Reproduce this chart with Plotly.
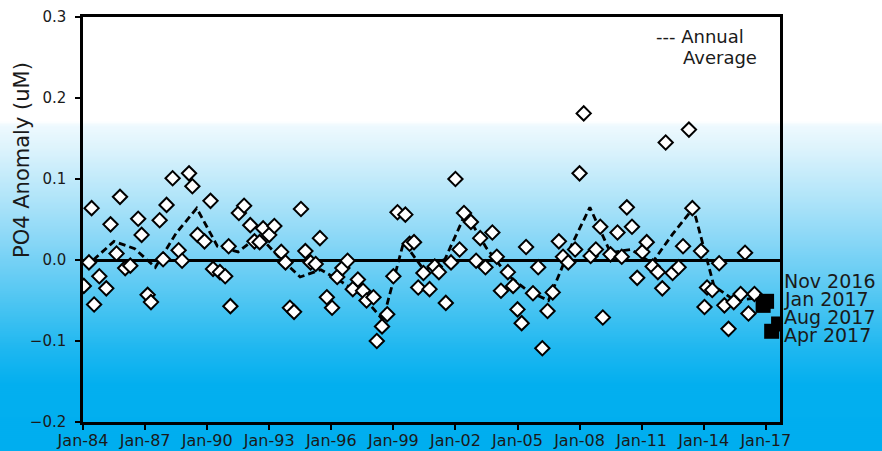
import plotly.graph_objects as go

# ---------------- data ----------------
sample_dates = [
    "1984-01-15", "1984-04-15", "1984-06-01", "1984-07-15", "1984-10-15",
    "1985-02-15", "1985-05-01", "1985-08-15", "1985-10-15", "1986-01-15",
    "1986-04-15", "1986-09-01", "1986-11-01", "1987-02-15", "1987-04-15",
    "1987-09-15", "1987-11-15", "1988-01-15", "1988-05-01", "1988-08-15",
    "1988-10-15", "1989-02-15", "1989-04-15", "1989-07-15", "1989-11-15",
    "1990-03-01", "1990-04-15", "1990-08-15", "1990-11-15", "1991-01-15",
    "1991-02-15", "1991-07-15", "1991-10-15", "1992-02-01", "1992-04-15",
    "1992-07-15", "1992-09-15", "1993-01-01", "1993-04-01", "1993-08-01",
    "1993-10-15", "1994-01-01", "1994-03-15", "1994-07-15", "1994-10-01",
    "1995-01-01", "1995-04-01", "1995-06-15", "1995-10-15", "1996-01-15",
    "1996-04-15", "1996-07-15", "1996-10-15", "1997-01-15", "1997-04-15",
    "1997-07-15", "1997-09-15", "1998-01-15", "1998-03-15", "1998-06-15",
    "1998-09-15", "1999-01-01", "1999-03-15", "1999-08-01", "1999-10-15",
    "2000-01-01", "2000-03-15", "2000-06-15", "2000-10-01", "2001-01-01",
    "2001-03-15", "2001-07-15", "2001-10-15", "2002-01-01", "2002-03-15",
    "2002-06-01", "2002-10-01", "2003-01-01", "2003-03-15", "2003-06-15",
    "2003-10-15", "2004-01-01", "2004-03-15", "2004-07-15", "2004-10-15",
    "2005-01-01", "2005-03-15", "2005-06-01", "2005-10-01", "2006-01-01",
    "2006-03-15", "2006-06-15", "2006-09-15", "2007-01-01", "2007-03-15",
    "2007-06-15", "2007-10-15", "2008-01-01", "2008-03-15", "2008-07-15",
    "2008-10-15", "2009-01-01", "2009-02-15", "2009-07-01", "2009-11-01",
    "2010-01-15", "2010-04-15", "2010-07-15", "2010-10-15", "2011-01-15",
    "2011-04-01", "2011-07-15", "2011-10-15", "2012-01-01", "2012-03-01",
    "2012-07-01", "2012-10-15", "2013-01-01", "2013-04-15", "2013-06-15",
    "2013-11-15", "2014-01-15", "2014-03-01", "2014-06-01", "2014-10-01",
    "2015-01-01", "2015-03-15", "2015-06-15", "2015-10-15", "2016-01-01",
    "2016-03-01", "2016-06-15",
]
sample_anomaly = [
    -0.032, -0.003, 0.064, -0.055, -0.020,
    -0.035, 0.044, 0.008, 0.078, -0.010,
    -0.007, 0.051, 0.031, -0.043, -0.052,
    0.049, 0.001, 0.068, 0.101, 0.012,
    -0.001, 0.107, 0.091, 0.031, 0.023,
    0.073, -0.011, -0.015, -0.020, 0.017,
    -0.057, 0.058, 0.067, 0.043, 0.023,
    0.022, 0.039, 0.031, 0.042, 0.010,
    -0.003, -0.059, -0.064, 0.063, 0.011,
    -0.003, -0.005, 0.027, -0.046, -0.059,
    -0.021, -0.010, -0.001, -0.036, -0.024,
    -0.038, -0.050, -0.046, -0.100, -0.082,
    -0.067, -0.020, 0.059, 0.056, 0.020,
    0.022, -0.034, -0.016, -0.036, -0.008,
    -0.015, -0.053, -0.003, 0.100, 0.013,
    0.058, 0.047, -0.001, 0.027, -0.009,
    0.034, 0.004, -0.038, -0.015, -0.032,
    -0.061, -0.078, 0.016, -0.041, -0.009,
    -0.109, -0.063, -0.040, 0.023, 0.004,
    -0.003, 0.013, 0.107, 0.181, 0.005,
    0.013, 0.041, -0.071, 0.007, 0.034,
    0.004, 0.065, 0.041, -0.022, 0.010,
    0.022, -0.008, -0.015, -0.035, 0.145,
    -0.016, -0.009, 0.017, 0.161, 0.064,
    0.011, -0.058, -0.034, -0.037, -0.004,
    -0.056, -0.085, -0.052, -0.042, 0.009,
    -0.066, -0.042,
]

annual_dates = [f"{y}-07-01" for y in range(1984, 2017)]
annual_average = [
    0.000, 0.023, 0.014, -0.009, 0.033, 0.064, 0.017, 0.010, 0.030, 0.003,
    -0.021, -0.012, -0.027, -0.044, -0.074, 0.022, -0.013, 0.001, 0.058, 0.015,
    -0.018, -0.038, -0.050, 0.012, 0.065, 0.009, 0.013, -0.004, 0.032, 0.064,
    -0.032, -0.050, -0.047,
]

recent_dates = ["2016-11-15", "2017-01-15", "2017-04-15", "2017-08-15"]
recent_anomaly = [-0.056, -0.051, -0.088, -0.079]
recent_labels = ["Nov 2016", "Jan 2017", "Aug 2017", "Apr 2017"]

tick_years = list(range(1984, 2018, 3))
tick_vals = [f"{y}-01-01" for y in tick_years]
tick_text = [f"Jan-{y % 100:02d}" for y in tick_years]

# ---------------- layout geometry ----------------
W, H = 882, 451
L, R, T, B = 83, 102, 17, 29
PW, PH = W - L - R, H - T - B
FONT = "DejaVu Sans"
TXT = "#1a1a1a"


def px2x(px):
    return (px - L) / PW


def py2y(py):
    return (H - B - py) / PH


# background gradient (white top -> cyan-blue bottom)
stops = [
    (0, (255, 255, 255)), (122, (255, 255, 255)), (126, (238, 249, 254)),
    (150, (220, 243, 252)), (200, (175, 228, 249)), (250, (128, 212, 246)),
    (300, (80, 198, 242)), (350, (30, 183, 240)), (385, (3, 175, 239)),
    (451, (0, 174, 239)),
]


def col_at(py):
    for (a, ca), (b, cb) in zip(stops[:-1], stops[1:]):
        if a <= py <= b:
            t = (py - a) / (b - a) if b > a else 0
            c = [round(ca[i] + (cb[i] - ca[i]) * t) for i in range(3)]
            return f"rgb({c[0]},{c[1]},{c[2]})"
    return "rgb(0,174,239)"


shapes = []
band = 2
for py in range(120, H + band, band):
    shapes.append(dict(
        type="rect", xref="paper", yref="paper", layer="below",
        x0=px2x(-5), x1=px2x(W + 5), y0=py2y(py + band + 0.5), y1=py2y(py - 0.5),
        fillcolor=col_at(py + band / 2), line=dict(width=0),
    ))

fig = go.Figure()

fig.add_trace(go.Scatter(
    x=annual_dates, y=annual_average, mode="lines",
    line=dict(color="black", width=2.8, dash="7px,4px"),
    hoverinfo="skip", showlegend=False,
))
fig.add_trace(go.Scatter(
    x=sample_dates, y=sample_anomaly, mode="markers",
    marker=dict(symbol="diamond", size=11, color="white",
                line=dict(color="black", width=2)),
    showlegend=False,
))
fig.add_trace(go.Scatter(
    x=recent_dates, y=recent_anomaly, mode="markers",
    marker=dict(symbol="square", size=15, color="black",
                line=dict(color="black", width=0)),
    showlegend=False,
))

annotations = [
    dict(text="PO4 Anomaly (uM)", xref="paper", yref="paper",
         x=px2x(22), y=py2y(160), textangle=-90, showarrow=False,
         font=dict(family=FONT, size=21, color=TXT),
         xanchor="center", yanchor="middle"),
    dict(text="--- Annual", xref="paper", yref="paper",
         x=px2x(654), y=py2y(36), showarrow=False,
         font=dict(family=FONT, size=18, color=TXT),
         xanchor="left", yanchor="middle"),
    dict(text="Average", xref="paper", yref="paper",
         x=px2x(681), y=py2y(58), showarrow=False,
         font=dict(family=FONT, size=18, color=TXT),
         xanchor="left", yanchor="middle"),
]
label_rows = [281, 299, 317, 335]
for lab, row in zip(recent_labels, label_rows):
    annotations.append(dict(
        text=lab, xref="paper", yref="paper", x=px2x(782), y=py2y(row),
        showarrow=False, font=dict(family=FONT, size=19, color=TXT),
        xanchor="left", yanchor="middle",
    ))

fig.update_layout(
    width=W, height=H, autosize=False,
    margin=dict(l=L, r=R, t=T, b=B, pad=0, autoexpand=False),
    paper_bgcolor="white", plot_bgcolor="rgba(0,0,0,0)",
    shapes=shapes, annotations=annotations,
    font=dict(family=FONT, color=TXT),
    showlegend=False,
)
fig.update_xaxes(
    type="date", range=["1984-01-01", "2017-09-09"],
    tickvals=tick_vals, ticktext=tick_text, automargin=False,
    ticks="outside", ticklen=5, tickwidth=1.5, tickcolor="black",
    showline=True, linecolor="black", linewidth=2.5, mirror=True,
    showgrid=False, zeroline=False,
    tickfont=dict(family=FONT, size=16, color=TXT),
    ticklabelstandoff=-3,
)
fig.update_yaxes(
    range=[-0.2, 0.3], tickvals=[-0.2, -0.1, 0.0, 0.1, 0.2, 0.3],
    tickformat=".1f", automargin=False,
    ticks="outside", ticklen=5, tickwidth=1.5, tickcolor="black",
    showline=True, linecolor="black", linewidth=2.5, mirror=True,
    showgrid=False, zeroline=True, zerolinecolor="black", zerolinewidth=2.5,
    tickfont=dict(family=FONT, size=15, color=TXT),
    ticklabelstandoff=6,
)

fig.write_html(
    "out.html",
    config={"responsive": False, "displayModeBar": False},
    post_script="document.body.style.margin='0px';document.body.style.overflow='hidden';",
)
